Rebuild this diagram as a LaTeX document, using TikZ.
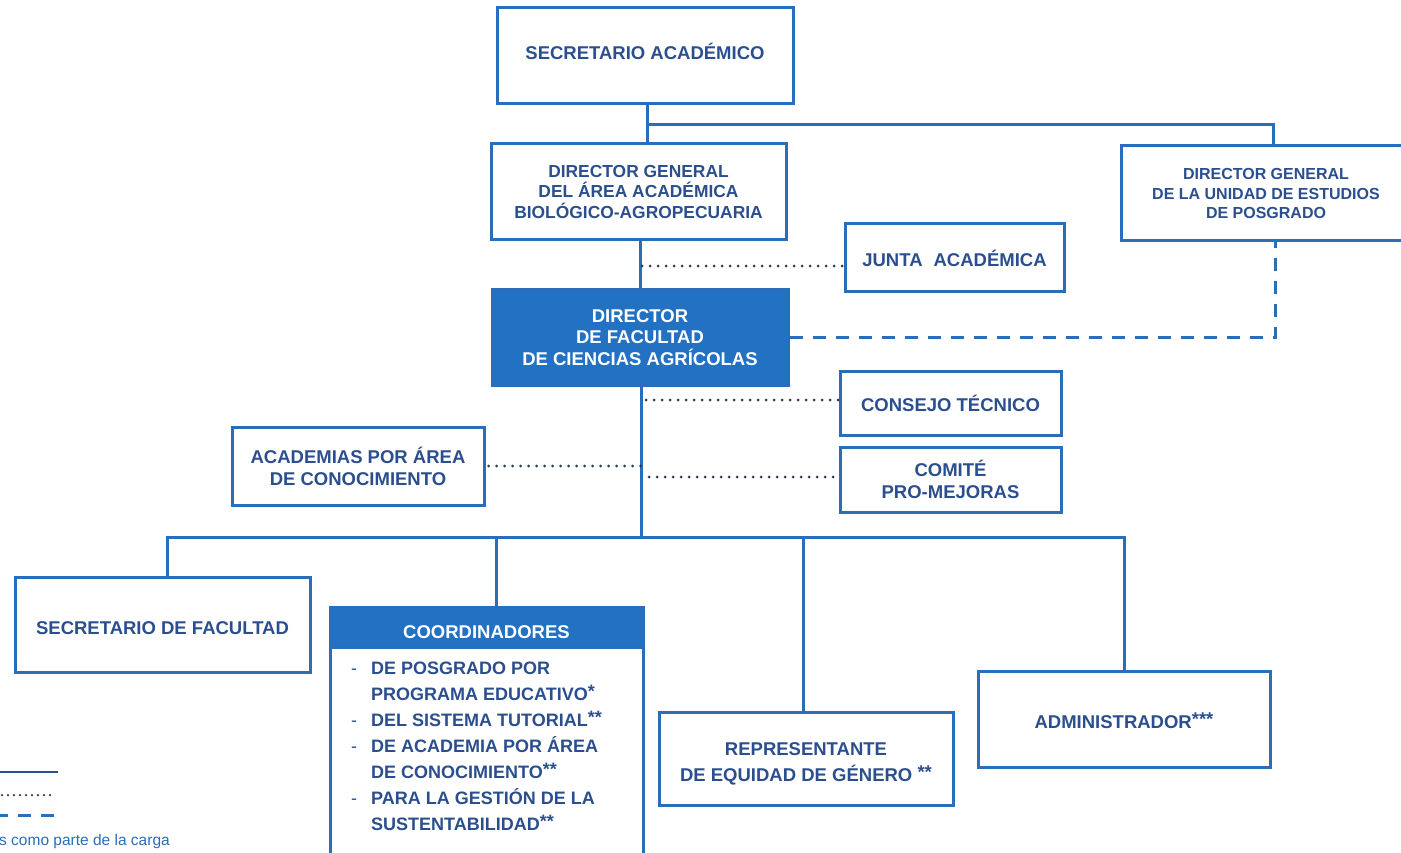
\documentclass[tikz,border=0pt]{standalone}
\usepackage{fontspec}
\setmainfont{Liberation Sans}
\usetikzlibrary{positioning,calc}

\definecolor{orgline}{HTML}{2A6DB8}
\definecolor{orgtext}{HTML}{2B4F8E}
\definecolor{orgfill}{HTML}{2271C3}
\definecolor{dotnavy}{HTML}{2A3550}

% footnote marks of the chart
\newcommand{\chartmark}[1]{\raisebox{3pt}{#1}}

\tikzset{
  orgbox/.style={draw=orgline, line width=3pt, fill=white, text=orgtext,
    font=\bfseries\fontsize{18.5}{22}\selectfont, align=center, inner sep=0pt},
  orgfilled/.style={orgbox, fill=orgfill, text=white},
  link/.style={draw=orgline, line width=3pt},
  linkdot/.style={draw=dotnavy, line width=3pt, line cap=round, dash pattern=on 0pt off 8pt},
  linkdash/.style={draw=orgline, line width=3pt, dash pattern=on 13pt off 10pt},
}

\begin{document}
\begin{tikzpicture}[x=1pt, y=-1pt]
  % Page window
  \useasboundingbox (0,0) rectangle (1401,853);
  \clip (0,0) rectangle (1401,853);

  % Top levels
  \node[orgbox, minimum width=296, minimum height=96, text height=14pt, text depth=7pt]
    (secac) at (645,56) {SECRETARIO ACADÉMICO};
  \node[orgbox, minimum width=295, minimum height=96,
    font=\bfseries\fontsize{17.4}{20.5}\selectfont] (dirgral) at (638.5,192)
    {DIRECTOR GENERAL\\ DEL ÁREA ACADÉMICA\\ BIOLÓGICO-AGROPECUARIA};
  \node[orgbox, minimum width=290, minimum height=95,
    font=\bfseries\fontsize{16}{19.5}\selectfont] (posgrado) at (1266,193.5)
    {DIRECTOR GENERAL\\ DE LA UNIDAD DE ESTUDIOS\\ DE POSGRADO};
  \node[orgbox, minimum width=219, minimum height=68] (junta) at (954.5,258)
    {JUNTA\hspace{11pt}ACADÉMICA};
  \node[orgfilled, minimum width=296, minimum height=95,
    font=\bfseries\fontsize{18.5}{21.5}\selectfont] (dirfac) at (640,337.5)
    {DIRECTOR\\ DE FACULTAD\\ DE CIENCIAS AGRÍCOLAS};

  % Collegiate bodies
  \node[orgbox, minimum width=221, minimum height=64] (consejo) at (950.5,403)
    {CONSEJO TÉCNICO};
  \node[orgbox, minimum width=252, minimum height=78] (academias) at (358,466)
    {ACADEMIAS POR ÁREA\\ DE CONOCIMIENTO};
  \node[orgbox, minimum width=221, minimum height=65] (comite) at (950.5,479.5)
    {COMITÉ\\ PRO-MEJORAS};

  % Lower level
  \node[orgbox, minimum width=295, minimum height=95, text height=23pt, text depth=4pt]
    (secfac) at (162.5,624.5) {SECRETARIO DE FACULTAD};
  \node[orgbox, minimum width=313, minimum height=213] (coordbody) at (486.5,753.5) {};
  \node[orgfilled, minimum width=313, minimum height=40, text height=27pt, text depth=4pt]
    (coord) at (486.5,627) {COORDINADORES};
  \node[anchor=north west, inner sep=0pt, align=left, text=orgtext,
    font=\bfseries\fontsize{18}{26}\selectfont] (coordlist) at (351,662)
    {\makebox[20pt][l]{\mdseries -}DE POSGRADO POR\\
     \hspace*{20pt}PROGRAMA EDUCATIVO\chartmark{*}\\
     \makebox[20pt][l]{\mdseries -}DEL SISTEMA TUTORIAL\chartmark{**}\\
     \makebox[20pt][l]{\mdseries -}DE ACADEMIA POR ÁREA\\
     \hspace*{20pt}DE CONOCIMIENTO\chartmark{**}\\
     \makebox[20pt][l]{\mdseries -}PARA LA GESTIÓN DE LA\\
     \hspace*{20pt}SUSTENTABILIDAD\chartmark{**}};
  \node[orgbox, minimum width=294, minimum height=93,
    font=\bfseries\fontsize{18.5}{26}\selectfont] (repr) at (806,758.5)
    {\rule{0pt}{24pt}REPRESENTANTE\\ DE EQUIDAD DE GÉNERO \chartmark{**}};
  \node[orgbox, minimum width=292, minimum height=96, text height=23pt, text depth=4pt]
    (admin) at (1124,719) {ADMINISTRADOR\chartmark{***}};

  % Lines of authority
  \coordinate (fork) at (647,125);
  \draw[link] (secac.south -| fork) -- (dirgral.north -| fork);
  \draw[link] (fork) -| ([xshift=7]posgrado.north);
  \draw[link] (dirgral.south -| dirfac.north) -- (dirfac.north);
  \coordinate (trunk) at (641,537);
  \draw[link] (dirfac.south -| trunk) -- (trunk);
  \draw[link] ([xshift=5]secfac.north) |- (trunk) -| (admin.north);
  \draw[link] ([xshift=10]coord.north) -- ([xshift=10]coord.north |- trunk);
  \draw[link] ([xshift=-3]repr.north) -- ([xshift=-3]repr.north |- trunk);

  % Coordination (dotted)
  \coordinate (jdot) at (642,266);
  \draw[linkdot] (jdot) -- (jdot -| junta.west);
  \coordinate (cdot) at (646,400);
  \draw[linkdot] (cdot) -- (cdot -| consejo.west);
  \draw[linkdot] ([xshift=3]academias.east) -- (academias.east -| trunk);
  \coordinate (pdot) at (649,477);
  \draw[linkdot] (pdot) -- (pdot -| comite.west);

  % Functional link (dashed)
  \draw[linkdash] (dirfac.east) -| ([xshift=9]posgrado.south);

  % Legend (cut at the page edge)
  \draw[draw=orgtext, line width=2.5pt] (-5,772) -- (58,772);
  \draw[linkdot, line width=2.5pt, dash pattern=on 0pt off 6pt] (2,795) -- (55,795);
  \draw[linkdash] (-5,815) -- (62,815);
  \node[anchor=west, inner sep=0pt, text=orgline, font=\fontsize{15.5}{18}\selectfont]
    (legtext) at (-1,841) {s como parte de la carga};
\end{tikzpicture}
\end{document}
